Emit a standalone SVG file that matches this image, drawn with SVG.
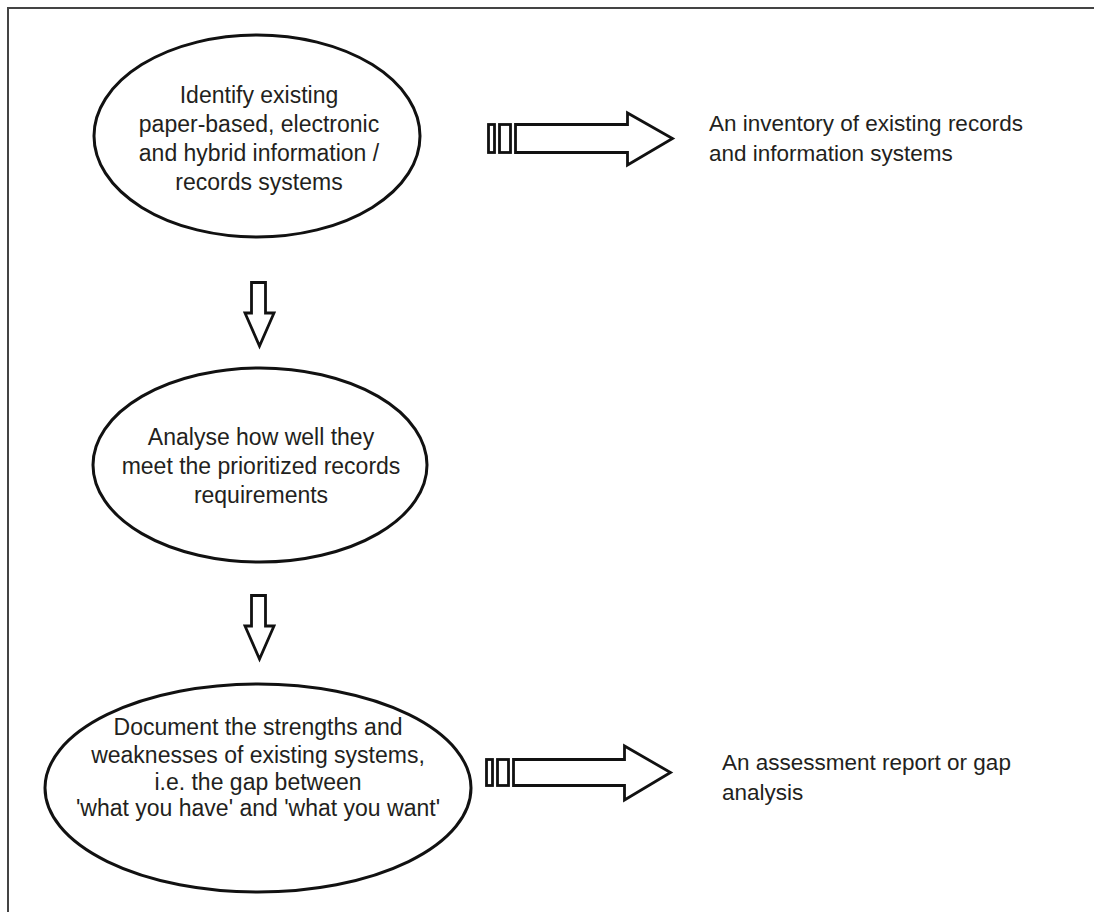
<svg xmlns="http://www.w3.org/2000/svg" width="1094" height="912" viewBox="0 0 1094 912">
<style>
.bg{fill:#ffffff}
.frame{fill:none;stroke:#444;stroke-width:2}
.node{fill:#ffffff;stroke:#111;stroke-width:3}
.arrow{fill:#ffffff;stroke:#111;stroke-width:2.8;stroke-linejoin:miter}
.t{font-family:"Liberation Sans",Arial,sans-serif;font-size:23px;fill:#231f20;text-anchor:middle}
.l{font-family:"Liberation Sans",Arial,sans-serif;font-size:22.5px;fill:#231f20}
</style>
<rect class="bg" x="0" y="0" width="1094" height="912"/>
<path class="frame" d="M8,912 V8 H1094"/>
<g id="node1">
<ellipse class="node" cx="257" cy="136" rx="163" ry="101"/>
<text class="t" x="259" y="103">Identify existing</text>
<text class="t" x="259" y="132">paper-based, electronic</text>
<text class="t" x="259" y="161">and hybrid information /</text>
<text class="t" x="259" y="190">records systems</text>
</g>
<g id="node2">
<ellipse class="node" cx="260" cy="465" rx="167" ry="97"/>
<text class="t" x="261" y="445">Analyse how well they</text>
<text class="t" x="261" y="474">meet the prioritized records</text>
<text class="t" x="261" y="503">requirements</text>
</g>
<g id="node3">
<ellipse class="node" cx="258" cy="788" rx="213" ry="104"/>
<text class="t" x="258" y="735">Document the strengths and</text>
<text class="t" x="258" y="763">weaknesses of existing systems,</text>
<text class="t" x="258" y="790">i.e. the gap between</text>
<text class="t" x="258" y="816">'what you have' and 'what you want'</text>
</g>
<g id="output1">
<text class="l" x="709" y="131">An inventory of existing records</text>
<text class="l" x="709" y="161">and information systems</text>
</g>
<g id="output2">
<text class="l" x="722" y="770">An assessment report or gap</text>
<text class="l" x="722" y="800">analysis</text>
</g>
<g id="connectors">
<rect class="arrow" x="488.5" y="124.5" width="6" height="28"/>
<rect class="arrow" x="499.5" y="124.5" width="11" height="28"/>
<path class="arrow" d="M515.5,124.5 H627.5 V113 L672.5,138.5 L627.5,165 V152.5 H515.5 Z"/>
<path class="arrow" d="M251.5,282.5 H265.5 V313 H274 L259.5,346 L245,313 H251.5 Z"/>
<path class="arrow" d="M251.5,595.5 H265.5 V626 H274 L259.5,659 L245,626 H251.5 Z"/>
<rect class="arrow" x="486.5" y="759.5" width="6" height="26"/>
<rect class="arrow" x="497.5" y="759.5" width="11" height="26"/>
<path class="arrow" d="M513.5,759.5 H624.5 V746 L670.5,772.5 L624.5,800 V785.5 H513.5 Z"/>
</g>
</svg>
